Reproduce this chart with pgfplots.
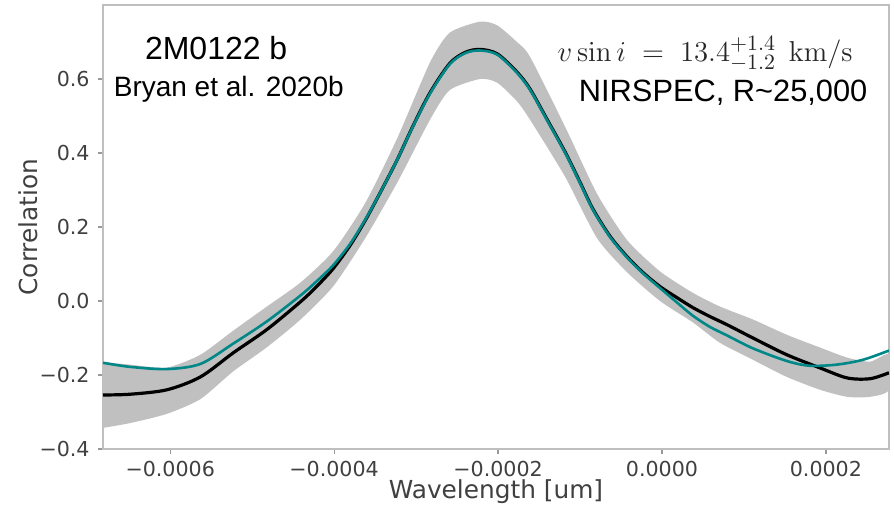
\documentclass[border=0pt]{standalone}
\usepackage{pgfplots}
\pgfplotsset{compat=1.18}
\usepackage[no-math]{fontspec}
\setmainfont{DejaVu Sans}
\newfontfamily\arialfont{Liberation Sans}
\definecolor{tealline}{RGB}{0,135,135}
\definecolor{bandgray}{RGB}{192,192,192}
\begin{document}
\begin{tikzpicture}
\path[use as bounding box] (-51.5pt,-29pt) rectangle (395.5pt,224.5pt);
\begin{axis}[
  at={(0,0)}, anchor=south west,
  scale only axis, width=393pt, height=222pt,
  xmin=-0.000682, xmax=0.000277, ymin=-0.4, ymax=0.8,
  clip mode=individual,
  tick pos=left, tick align=outside,
  major tick length=2.5pt,
  tick style={black!40, line width=0.6pt},
  axis line style={black!25, line width=0.9pt},
  xtick={-0.0006,-0.0004,-0.0002,0,0.0002},
  xticklabels={−0.0006,−0.0004,−0.0002,0.0000,0.0002},
  ytick={-0.4,-0.2,0,0.2,0.4,0.6},
  yticklabels={−0.4,−0.2,0.0,0.2,0.4,0.6},
  ticklabel style={font=\fontsize{10.3}{12}\selectfont, text=black!75},
  xticklabel style={anchor=base, yshift=-11.5pt},
  yticklabel style={anchor=east, inner sep=0pt, xshift=-4pt},
  xlabel={Wavelength [um]}, ylabel={Correlation},
  label style={font=\fontsize{12.4}{14}\selectfont, text=black!75},
  xlabel style={at={(axis description cs:0.5,-0.111)}, anchor=base},
  ylabel style={at={(axis description cs:-0.0954,0.5)}, anchor=center},
]
% uncertainty band
\addplot[fill=bandgray, draw=none, smooth, tension=0.4] coordinates {
(-0.000682,-0.165) (-0.000649,-0.172) (-0.000604,-0.180) (-0.000563,-0.145)
(-0.000523,-0.080) (-0.000482,-0.015) (-0.000441,0.050) (-0.000401,0.135)
(-0.000362,0.265) (-0.000323,0.440) (-0.000283,0.645) (-0.000259,0.725)
(-0.000222,0.755) (-0.000201,0.745) (-0.000177,0.700) (-0.000161,0.660)
(-0.000118,0.470) (-0.0000793,0.290) (-0.0000427,0.165) (-0.0000024,0.080)
(0.0000378,0.022) (0.0000707,-0.015) (0.000111,-0.050) (0.000152,-0.091)
(0.000193,-0.126) (0.000226,-0.153) (0.000254,-0.164) (0.000277,-0.145)
(0.000277,-0.240) (0.000254,-0.259) (0.000226,-0.259) (0.000193,-0.240)
(0.000152,-0.205) (0.000111,-0.159) (0.0000707,-0.113) (0.0000378,-0.058)
(-0.0000024,0.000) (-0.0000427,0.078) (-0.0000793,0.170) (-0.000118,0.335)
(-0.000161,0.490) (-0.000177,0.540) (-0.000201,0.590) (-0.000222,0.600)
(-0.000259,0.570) (-0.000283,0.490) (-0.000323,0.320) (-0.000362,0.170)
(-0.000401,0.040) (-0.000441,-0.050) (-0.000482,-0.125) (-0.000523,-0.190)
(-0.000563,-0.265) (-0.000604,-0.305) (-0.000649,-0.330) (-0.000682,-0.343)
} -- cycle;
% data
\addplot[black, line width=1.6pt, smooth, tension=0.5] coordinates {
(-0.000682,-0.254) (-0.000649,-0.252) (-0.000604,-0.240) (-0.000563,-0.205)
(-0.000523,-0.140) (-0.000482,-0.077) (-0.000441,-0.002) (-0.000421,0.040)
(-0.000401,0.088) (-0.000380,0.152) (-0.000362,0.218) (-0.000344,0.292)
(-0.000323,0.382) (-0.000304,0.472) (-0.000283,0.563) (-0.000259,0.642)
(-0.000240,0.672) (-0.000222,0.680) (-0.000201,0.668) (-0.000177,0.619)
(-0.000161,0.573) (-0.000140,0.490) (-0.000118,0.402) (-0.000100,0.321)
(-0.0000841,0.248) (-0.0000634,0.175) (-0.0000427,0.120) (-0.0000232,0.077)
(-0.0000024,0.039) (0.0000183,0.009) (0.0000378,-0.018) (0.0000585,-0.042)
(0.0000793,-0.064) (0.000111,-0.100) (0.000152,-0.145) (0.000193,-0.181)
(0.000226,-0.208) (0.000254,-0.210) (0.000277,-0.194)
};
% model
\addplot[tealline, line width=1.3pt, smooth, tension=0.5] coordinates {
(-0.000682,-0.167) (-0.000649,-0.178) (-0.000604,-0.184) (-0.000563,-0.170)
(-0.000523,-0.115) (-0.000482,-0.055) (-0.000441,0.015) (-0.000421,0.054)
(-0.000401,0.097) (-0.000380,0.156) (-0.000362,0.220) (-0.000344,0.292)
(-0.000323,0.382) (-0.000304,0.471) (-0.000283,0.561) (-0.000259,0.640)
(-0.000240,0.670) (-0.000222,0.677) (-0.000201,0.666) (-0.000177,0.617)
(-0.000161,0.571) (-0.000140,0.488) (-0.000118,0.400) (-0.000100,0.319)
(-0.0000841,0.246) (-0.0000634,0.173) (-0.0000427,0.118) (-0.0000232,0.075)
(-0.0000024,0.035) (0.0000183,-0.004) (0.0000378,-0.040) (0.0000585,-0.070)
(0.0000793,-0.093) (0.000111,-0.128) (0.000152,-0.162) (0.000180,-0.175)
(0.000213,-0.172) (0.000245,-0.159) (0.000277,-0.134)
};
\node[font=\arialfont\fontsize{16}{18}\selectfont, anchor=base] at (rel axis cs:0.144,0.877) {2M0122 b};
\node[font=\arialfont\fontsize{14}{16}\selectfont, anchor=base] at (rel axis cs:0.160,0.793) {Bryan et al. 2020b};
\node[font=\fontsize{15.2}{17}\selectfont, anchor=base, text=black!85] at (rel axis cs:0.766,0.872) {$v\sin i\;=\;13.4^{+1.4}_{-1.2}\;\,\mathrm{km/s}$};
\node[font=\arialfont\fontsize{15.4}{17}\selectfont, anchor=base] at (rel axis cs:0.789,0.782) {NIRSPEC, R\textasciitilde 25,000};
\end{axis}
\end{tikzpicture}
\end{document}
